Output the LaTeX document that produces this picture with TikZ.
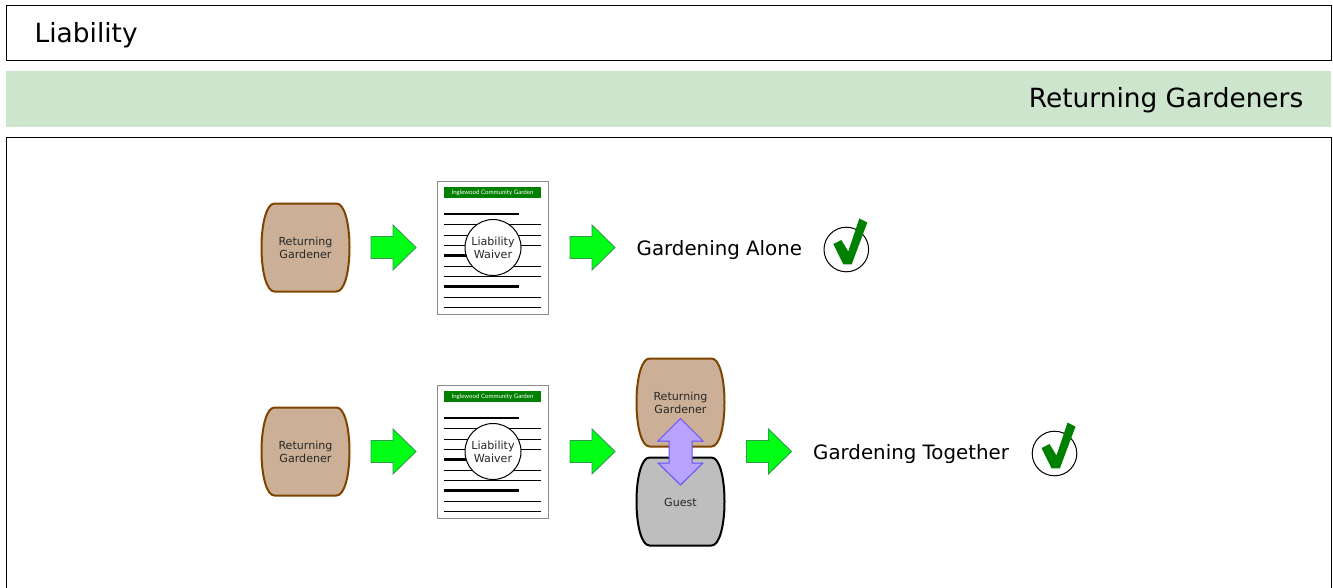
\documentclass[tikz,border=0pt]{standalone}
\usepackage{fontspec}
\setmainfont{DejaVu Sans}
\newfontfamily\hdrfont{Lato}
\definecolor{bandgreen}{HTML}{CDE4CD}
\definecolor{tan}{HTML}{CBB097}
\definecolor{tanedge}{HTML}{7F4300}
\definecolor{guestgrey}{HTML}{BEBEBE}
\definecolor{arrowgreen}{HTML}{00FF14}
\definecolor{arrowedge}{HTML}{2E9B4A}
\definecolor{tick}{HTML}{008000}
\definecolor{lilac}{HTML}{B8A4FF}
\definecolor{lilacedge}{HTML}{6A4CFF}
\tikzset{
  x=1pt,y=-1pt,
  barrelshape/.style={line width=2pt},
  barreltext/.style={font=\fontsize{11.1}{13}\selectfont,align=center,inner sep=0pt,text=black!85},
  bigtext/.style={font=\fontsize{19.8}{24}\selectfont,anchor=west,inner sep=0pt},
  headtext/.style={font=\fontsize{26.4}{32}\selectfont,inner sep=0pt},
  thinrule/.style={line width=1pt},
  thickrule/.style={line width=2.2pt},
  pics/barrel/.style n args={4}{code={
    \draw[barrelshape,draw=#2,fill=#1]
      (-31,-44) -- (31,-44) .. controls (39,-44) and (44,-24) .. (44,0)
      .. controls (44,24) and (39,44) .. (31,44) -- (-31,44)
      .. controls (-39,44) and (-44,24) .. (-44,0)
      .. controls (-44,-24) and (-39,-44) .. (-31,-44) -- cycle;
    \node[barreltext] (#4) at (0,#3) {\ifx#4g Guest\else Returning\\Gardener\fi};
  }},
  pics/blockarrow/.style={code={
    \draw[line width=0.9pt,draw=arrowedge,fill=arrowgreen]
      (0,-11) -- (22,-11) -- (22,-22.5) -- (45,0) -- (22,22.5) -- (22,11) -- (0,11) -- cycle;
  }},
  pics/waiver/.style={code={
    \draw[line width=1pt,draw=black!45,fill=white] (0,0) rectangle (111,133);
    \node[fill=tick,minimum width=97pt,minimum height=11pt,inner sep=0pt,text=white,
      font=\hdrfont\fontsize{6.1}{7}\selectfont] (hdr) at (55,11) {Inglewood Community Garden};
    \foreach \y in {32.5,105} \draw[thickrule] (6.5,\y) -- (81.5,\y);
    \draw[thickrule] (6.5,74) -- (40,74);
    \foreach \y in {43,53.5,64,84.5,95,115.5,126} \draw[thinrule] (6.5,\y) -- (103.5,\y);
    \node[circle,draw,fill=white,line width=1pt,minimum size=56pt,inner sep=0pt,
      font=\fontsize{11.1}{13}\selectfont,align=center,text=black!85] (seal) at (55.5,66) {Liability\\Waiver};
  }},
  pics/okmark/.style={code={
    \draw[line width=1pt,fill=white] (0,0) circle[radius=22.3];
    \fill[tick] (-13,-5.5) -- (-5,-9.5) -- (2,2) -- (13,-31) -- (21,-27) -- (5.4,14.8) -- (-3,14.8) -- cycle;
  }}
}
\begin{document}
\begin{tikzpicture}
\useasboundingbox (0,0) rectangle (1333,587);
% header frames
\draw[line width=1pt] (6.5,5.5) rectangle (1331.5,60.5);
\node[headtext,anchor=west] (title) at (34.5,35) {Liability};
\fill[bandgreen] (6,71) rectangle (1331,126.5);
\node[headtext,anchor=east] (subtitle) at (1303.5,100.5) {Returning Gardeners};
\draw[line width=1pt] (6.5,600) -- (6.5,137.5) -- (1331.5,137.5) -- (1331.5,600);
% first row
\pic at (305.5,247.5) {barrel={tan}{tanedge}{0.5}{a}};
\pic at (371,247.5) {blockarrow};
\pic at (437.5,181.5) {waiver};
\pic at (570,247.5) {blockarrow};
\node[bigtext] (alone) at (636.5,250.5) {Gardening Alone};
\pic at (846.3,249.5) {okmark};
% second row
\pic at (305.5,451.5) {barrel={tan}{tanedge}{0.5}{b}};
\pic at (371,451.5) {blockarrow};
\pic at (437.5,385.5) {waiver};
\pic at (570,451.5) {blockarrow};
\pic at (680.5,402.5) {barrel={tan}{tanedge}{0.5}{c}};
\pic at (680.5,501.5) {barrel={guestgrey}{black}{0.5}{g}};
\draw[line width=1pt,draw=lilacedge,fill=lilac]
  (680.5,418.5) -- (703,441) -- (692,441) -- (692,463) -- (703,463) -- (680.5,485)
  -- (658,463) -- (669,463) -- (669,441) -- (658,441) -- cycle;
\pic at (746.5,451.5) {blockarrow};
\node[bigtext] (together) at (813,454.5) {Gardening Together};
\pic at (1054.5,453.5) {okmark};
\end{tikzpicture}
\end{document}
